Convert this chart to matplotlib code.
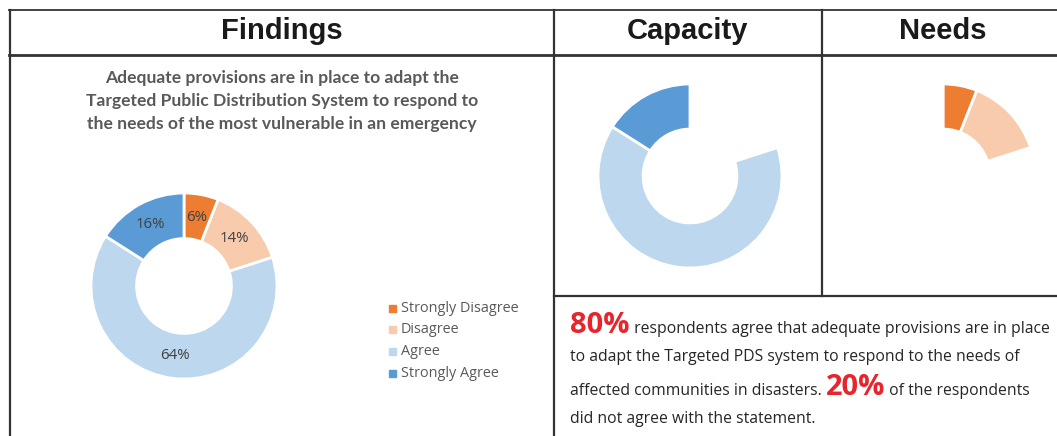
import matplotlib
matplotlib.use("Agg")
import matplotlib.pyplot as plt
from matplotlib.lines import Line2D

# data
categories = ["Strongly Disagree", "Disagree", "Agree", "Strongly Agree"]
shares = [6, 14, 64, 16]
colors = ["#ED7D31", "#F8CBAD", "#BDD7EE", "#5B9BD5"]
headers = ["Findings", "Capacity", "Needs"]
chart_title = ("Adequate provisions are in place to adapt the\n"
               "Targeted Public Distribution System to respond to\n"
               "the needs of the most vulnerable in an emergency")
agree_pct = "80%"
disagree_pct = "20%"

W, H = 1057, 436
fig = plt.figure(figsize=(W / 100, H / 100), dpi=100)
fig.patch.set_facecolor("white")

def fx(x):
    return x / W

def fy(y):
    return 1 - y / H

def hline(y, x0, x1, lw=1.6):
    fig.add_artist(Line2D([fx(x0), fx(x1)], [fy(y), fy(y)], color="#333333", lw=lw))

def vline(x, y0, y1, lw=1.6):
    fig.add_artist(Line2D([fx(x), fx(x)], [fy(y0), fy(y1)], color="#333333", lw=lw))

# table grid
hline(10, 9, 1057, 1.3)
hline(55, 9, 1057, 2.0)
vline(9.5, 10, 436)
vline(554, 10, 436)
vline(821.5, 10, 296)
hline(296, 554, 1057, 1.6)

hfont = dict(family="Liberation Sans", weight="bold", fontsize=21, color="#1a1a1a",
             ha="center", va="center")
fig.text(fx(282), fy(31), headers[0], **hfont)
fig.text(fx(688), fy(31), headers[1], **hfont)
fig.text(fx(943), fy(31), headers[2], **hfont)

fig.text(fx(282), fy(101), chart_title, family="Lato", weight="bold", fontsize=12.6,
         color="#595959", ha="center", va="center", linespacing=1.53)

def donut(cx, cy, r, cols, pct=False):
    ax = fig.add_axes([fx(cx - r), fy(cy + r), 2 * r / W, 2 * r / H])
    kw = dict(startangle=90, counterclock=False, colors=cols, radius=1,
              wedgeprops=dict(width=0.49, edgecolor="white", linewidth=2))
    if pct:
        wedges, _, autotexts = ax.pie(shares, autopct="%d%%", pctdistance=0.75,
                                      textprops=dict(family="Open Sans", fontsize=10.8,
                                                     color="#404040"), **kw)
    else:
        wedges, _ = ax.pie(shares, **kw)
    ax.set_xlim(-1, 1)
    ax.set_ylim(-1, 1)
    ax.set_aspect("equal")
    ax.axis("off")
    return ax, wedges

ax_main, wedges = donut(184, 286, 93, colors, pct=True)
donut(690, 176, 92, ["none", "none", colors[2], colors[3]])
donut(943, 176, 92, [colors[0], colors[1], "none", "none"])

# legend
for i, (lab, col) in enumerate(zip(categories, colors)):
    y = 308 + i * 21.7
    fig.patches.append(plt.Rectangle((fx(389), fy(y + 3.5)), 7 / W, 7 / H,
                                     transform=fig.transFigure, color=col, figure=fig))
    fig.text(fx(401), fy(y), lab, family="Open Sans", fontsize=10.4, color="#595959",
             ha="left", va="center")

# text block with mixed sizes
renderer = fig.canvas.get_renderer()
body = dict(family="Open Sans", fontsize=11.3, color="#262626", va="baseline", ha="left")
big = dict(family="Open Sans", weight="bold", fontsize=21, color="#E8242C",
           va="baseline", ha="left")

def run(x, y, pieces):
    for s, style in pieces:
        t = fig.text(fx(x), fy(y), s, **style)
        bb = t.get_window_extent(renderer)
        x += bb.width

run(570, 333, [(agree_pct, big), (" respondents agree that adequate provisions are in place", body)])
run(570, 361, [("to adapt the Targeted PDS system to respond to the needs of", body)])
run(570, 395, [("affected communities in disasters. ", body), (disagree_pct, big),
               (" of the respondents", body)])
run(570, 423, [("did not agree with the statement.", body)])

fig.savefig("out.png", dpi=100)
